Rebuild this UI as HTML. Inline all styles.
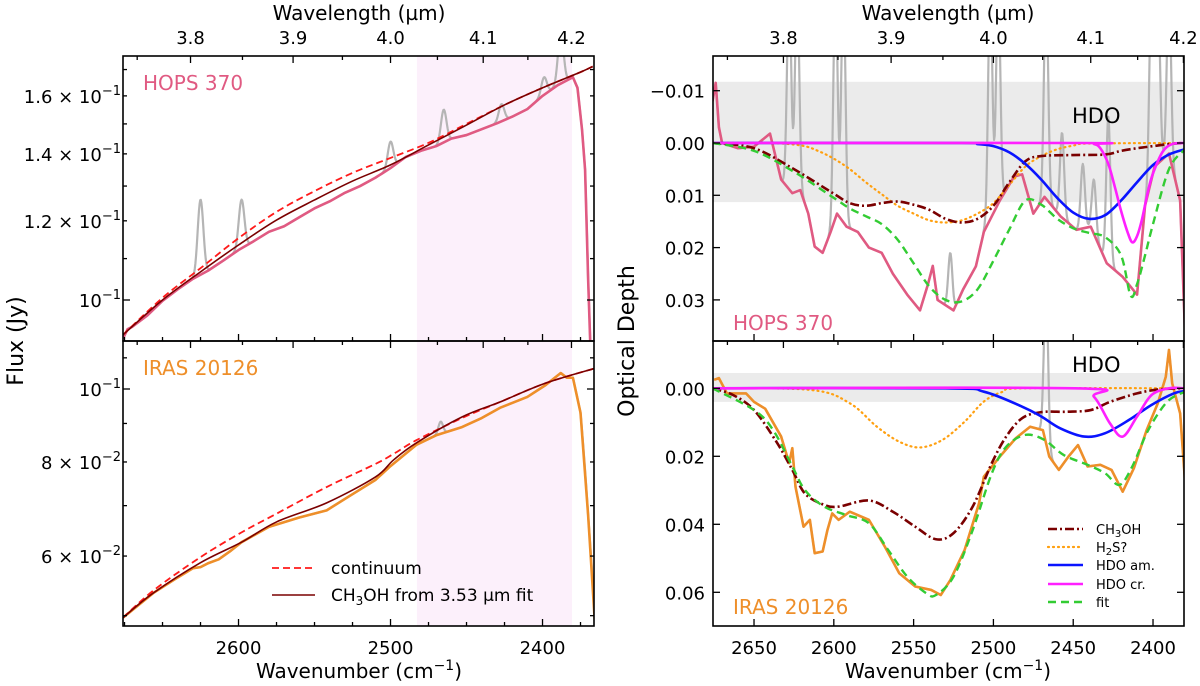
<!DOCTYPE html>
<html><head><meta charset="utf-8"><style>
html,body{margin:0;padding:0;background:#fff;}
svg{display:block;font-family:"DejaVu Sans","Liberation Sans",sans-serif;}
</style></head><body>
<svg id="fig" width="1200" height="686" viewBox="0 0 1200 686" xmlns="http://www.w3.org/2000/svg">
<defs>
<clipPath id="cLT"><rect x="123" y="56" width="471" height="285"/></clipPath>
<clipPath id="cLB"><rect x="123" y="341" width="471" height="285"/></clipPath>
<clipPath id="cRT"><rect x="713" y="56" width="471" height="285"/></clipPath>
<clipPath id="cRB"><rect x="713" y="341" width="471" height="285"/></clipPath>
</defs>
<g id="root"></g>
</svg>
<script>
// ---------- Left top (HOPS 370 flux) ----------
const ltWn=[2676,2650,2625,2600,2575,2550,2525,2500,2475,2450,2425,2400,2375,2367];
const ltCont=[0.0923,0.1005,0.1076,0.1153,0.1225,0.1285,0.1340,0.1387,0.1436,0.1500,0.1567,0.1630,0.1690,0.1712];
const ltModel=[0.0923,0.1000,0.1067,0.1135,0.1202,0.1259,0.1315,0.1365,0.1429,0.1496,0.1567,0.1630,0.1690,0.1712];
const ltObsWn=[2676,2673,2670,2660,2650,2640,2630,2620,2610,2600,2590,2580,2570,2560,2550,2540,2530,2520,2510,2500,2490,2480,2470,2460,2450,2440,2430,2420,2410,2400,2390,2380,2377,2374,2372,2370,2368];
const ltObs=[0.0915,0.0935,0.094,0.0965,0.0998,0.1025,0.105,0.107,0.1095,0.1122,0.1145,0.117,0.1185,0.1210,0.1235,0.1255,0.128,0.130,0.1325,0.1355,0.139,0.141,0.1425,0.145,0.1462,0.1482,0.1502,0.1525,0.1552,0.1600,0.1640,0.1670,0.1630,0.1480,0.1350,0.1050,0.0850];
const ltLineWn=[2625,2598,2500,2465,2427,2399,2388];
const ltLinePeak=[0.126,0.126,0.144,0.155,0.157,0.167,0.185];
// ---------- Left bottom (IRAS 20126 flux) ----------
const lbWn=[2676,2656,2625,2598,2575,2542,2510,2498,2483,2453,2428,2398,2365];
const lbModel=[0.0497,0.0536,0.0588,0.0626,0.0666,0.0706,0.0764,0.0805,0.0848,0.0918,0.0961,0.1018,0.1066];
const lbCont=[0.0497,0.0540,0.0598,0.0645,0.0683,0.0741,0.0795,0.0820,0.0855,0.0915,0.0961,0.1018,0.1066];
const lbObsWn=[2676,2656,2640,2630,2625,2620,2613,2605,2598,2580,2560,2542,2525,2510,2500,2483,2470,2453,2440,2428,2410,2398,2388,2384,2380,2375,2370,2365];
const lbObs=[0.0497,0.0536,0.0562,0.0578,0.0580,0.0587,0.0594,0.0610,0.0626,0.0656,0.0675,0.0690,0.0725,0.0757,0.0790,0.0843,0.0868,0.0890,0.0915,0.0944,0.0976,0.1012,0.1050,0.1035,0.1035,0.0930,0.0680,0.0470];
const lbLineWn=[2467];
const lbLinePeak=[0.0905];
// ---------- Right top (HOPS 370 optical depth) ----------
const rtMethWn=[2676,2650,2625,2600,2590,2580,2570,2560,2550,2540,2530,2520,2510,2500,2490,2480,2470,2450,2430,2420,2410,2400,2390,2380];
const rtMeth=[0,0.001,0.005,0.0097,0.0115,0.012,0.0115,0.0112,0.0118,0.0128,0.0145,0.0152,0.0145,0.012,0.0075,0.0035,0.0025,0.0023,0.0022,0.0015,0.001,0.0006,0.0002,0];
const rtH2sWn=[2676,2640,2620,2610,2600,2590,2580,2570,2560,2550,2540,2530,2520,2510,2500,2490,2480,2470,2460,2450,2440,2380];
const rtH2s=[0,0,0.0005,0.0015,0.003,0.005,0.0075,0.0098,0.012,0.0135,0.0148,0.0152,0.0148,0.0135,0.0115,0.008,0.0045,0.0025,0.0012,0.0005,0.0001,0];
const rtAmWn=[2676,2520,2510,2500,2490,2480,2470,2460,2450,2440,2430,2420,2410,2400,2390,2380];
const rtAm=[0,0,0.0002,0.0006,0.0018,0.004,0.007,0.0105,0.0133,0.0145,0.0138,0.011,0.0075,0.0042,0.0022,0.0012];
const rtCrWn=[2676,2445,2437,2433,2428,2424,2420,2416,2413,2410,2407,2403,2400,2394,2388,2380];
const rtCr=[0,0,0.0002,0.001,0.004,0.0083,0.013,0.017,0.019,0.0178,0.0147,0.009,0.0058,0.0017,0.0002,0];
const rtFitWn=[2676,2650,2625,2600,2590,2580,2570,2560,2550,2540,2530,2520,2510,2500,2490,2480,2470,2460,2450,2440,2430,2420,2414,2410,2405,2400,2390,2380];
const rtFit=[0,0.0015,0.0055,0.0105,0.0125,0.014,0.0155,0.0185,0.023,0.0275,0.030,0.0303,0.028,0.0225,0.0165,0.011,0.0118,0.0145,0.0163,0.0172,0.018,0.0215,0.0292,0.027,0.0215,0.0155,0.005,0.0012];
const rtObsWn=[2676,2674,2672,2670,2660,2650,2640,2633,2626,2621,2616,2612,2607,2602,2598,2592,2585,2578,2570,2563,2554,2546,2541,2538,2535,2525,2519,2511,2506,2496,2487,2482,2475,2468,2458,2448,2439,2429,2419,2410,2405,2399,2390,2383,2380];
const rtObs=[-0.008,-0.0115,-0.003,0,0.001,0.0007,-0.0018,0.007,0.0096,0.009,0.0135,0.0198,0.021,0.017,0.0135,0.016,0.017,0.020,0.021,0.025,0.029,0.032,0.027,0.0235,0.030,0.032,0.028,0.0236,0.017,0.011,0.0064,0.006,0.0135,0.0103,0.014,0.0166,0.016,0.023,0.0256,0.029,0.012,0.0045,0.002,0.011,0.036];
const rtLineWn=[2628,2623,2599,2594,2527,2502,2497,2467,2457,2444,2437,2428,2401,2397,2390];
const rtLinePeak=[-0.03,-0.03,-0.03,-0.03,0.021,-0.03,-0.03,-0.03,-0.002,0.004,0.007,-0.005,-0.03,-0.03,-0.03];
// ---------- Right bottom (IRAS 20126 optical depth) ----------
const rbMethWn=[2676,2663,2650,2636,2626,2618,2606,2597,2578,2563,2549,2536,2525,2513,2501,2492,2482,2470,2454,2439,2427,2410,2396,2380];
const rbMeth=[0,0.002,0.0064,0.0157,0.024,0.031,0.0343,0.0348,0.033,0.0363,0.0407,0.0444,0.0426,0.0348,0.022,0.0142,0.0088,0.007,0.0069,0.0064,0.004,0.0015,0.0003,0];
const rbH2sWn=[2676,2614,2590,2573,2559,2546,2532,2518,2506,2494,2480,2380];
const rbH2s=[0,0.0005,0.0044,0.0113,0.0157,0.0174,0.0152,0.0098,0.0039,0.001,0,0];
const rbAmWn=[2676,2530,2506,2482,2470,2458,2443,2430,2415,2401,2387,2380];
const rbAm=[0,0,0.001,0.0054,0.0083,0.0118,0.0142,0.0132,0.0093,0.0049,0.0015,0.0008];
const rbCrWn=[2676,2449,2437,2427,2419,2410,2401,2390,2380];
const rbCr=[0,0,0.0025,0.0103,0.0142,0.0083,0.002,0,0];
const rbFitWn=[2676,2650,2638,2626,2618,2606,2592,2578,2566,2554,2542,2536,2525,2513,2501,2492,2480,2468,2456,2441,2430,2421,2413,2403,2391,2380];
const rbFit=[0,0.0064,0.0123,0.023,0.030,0.0348,0.0373,0.0397,0.0475,0.0554,0.0603,0.0608,0.0554,0.0417,0.025,0.0172,0.0137,0.0152,0.0196,0.0225,0.025,0.0284,0.023,0.0123,0.0039,0.001];
const rbObsWn=[2675,2672,2667,2655,2650,2643,2633,2628,2626,2624,2619,2615,2612,2607,2604,2601,2597,2590,2578,2568,2559,2549,2539,2533,2527,2518,2509,2506,2496,2486,2477,2469,2465,2459,2453,2447,2441,2433,2426,2419,2412,2404,2397,2392,2390,2388,2383,2380,2379];
const rbObs=[-0.0025,-0.003,0.0015,0.0015,0.004,0.006,0.0142,0.022,0.0176,0.029,0.0407,0.0387,0.0485,0.048,0.0417,0.0368,0.0387,0.0363,0.0387,0.0466,0.0544,0.0583,0.0593,0.0608,0.0564,0.0475,0.0338,0.026,0.0201,0.0147,0.0113,0.0123,0.0201,0.024,0.0201,0.0167,0.023,0.0225,0.024,0.0304,0.0235,0.0123,0.0044,-0.0034,-0.0113,-0.0015,0.0074,0.027,0.051];
const rbLineWn=[2467];
const rbLinePeak=[-0.03];
// ---------- ticks ----------
const leftWnTicks=[2600,2500,2400];
const rightWnTicks=[2650,2600,2550,2500,2450,2400];
const lamTicks=[3.8,3.9,4.0,4.1,4.2];
const ltYTicks=[0.16,0.14,0.12,0.1];
const ltYLabels=["1.6","1.4","1.2",""];
const lbYTicks=[0.1,0.08,0.06];
const lbYLabels=["","8","6"];
const rtYTicks=[-0.01,0,0.01,0.02,0.03];
const rtYLabels=["\u22120.01","0.00","0.01","0.02","0.03"];
const rbYTicks=[0,0.02,0.04,0.06];
const rbYLabels=["0.00","0.02","0.04","0.06"];

// ---------- axes ----------
const L0=123,L1=594,R0=713,R1=1184,T0=56,M=341,B0=626;
const lx=w=>L0+(2676-w)*1.52;
const rx=w=>R0+(2675.7-w)*1.596;
const ly1=v=>300-1000*Math.log10(v/0.1);
const ly2=v=>389-753*Math.log10(v/0.1);
const ry1=t=>143+5230*t;
const ry2=t=>388.3+3400*t;

const NS="http://www.w3.org/2000/svg";
const root=document.getElementById('root');
function el(tag,attrs,parent){const e=document.createElementNS(NS,tag);for(const k in attrs)e.setAttribute(k,attrs[k]);(parent||root).appendChild(e);return e;}
function interp(ws,vs,w){for(let i=0;i<ws.length-1;i++){if(w<=ws[i]&&w>=ws[i+1]){const f=(ws[i]-w)/(ws[i]-ws[i+1]);return vs[i]+f*(vs[i+1]-vs[i]);}}return w>ws[0]?vs[0]:vs[vs.length-1];}
function linePath(ws,vs,fx,fy){return ws.map((w,i)=>(i?'L':'M')+fx(w).toFixed(2)+','+fy(vs[i]).toFixed(2)).join('');}
function smoothPath(ws,vs,fx,fy){const p=ws.map((w,i)=>[fx(w),fy(vs[i])]);let d='M'+p[0][0].toFixed(2)+','+p[0][1].toFixed(2);for(let i=0;i<p.length-1;i++){const a=p[Math.max(0,i-1)],b=p[i],c=p[i+1],e=p[Math.min(p.length-1,i+2)];const c1=[b[0]+(c[0]-a[0])/6,b[1]+(c[1]-a[1])/6],c2=[c[0]-(e[0]-b[0])/6,c[1]-(e[1]-b[1])/6];d+='C'+c1[0].toFixed(2)+','+c1[1].toFixed(2)+' '+c2[0].toFixed(2)+','+c2[1].toFixed(2)+' '+c[0].toFixed(2)+','+c[1].toFixed(2);}return d;}
function grayify(ws,vs,lw,lp,sig){const o=[],ov=[];for(let w=ws[0];w>=ws[ws.length-1];w-=0.4){let v=interp(ws,vs,w);for(let k=0;k<lw.length;k++){const amp=lp[k]-interp(ws,vs,lw[k]);v+=amp*Math.exp(-Math.pow(w-lw[k],2)/(2*sig*sig));}o.push(w);ov.push(v);}return [o,ov];}
function txt(x,y,s,attrs,parent){const t=el('text',Object.assign({x:x,y:y},attrs||{}),parent);t.textContent=s;return t;}

// backgrounds
const bgLT=el('rect',{x:lx(2482.6),y:T0,width:lx(2380.6)-lx(2482.6),height:M-T0,fill:'#fcf0fb'});


const bgLB=el('rect',{x:lx(2482.6),y:M,width:lx(2380.6)-lx(2482.6),height:B0-M,fill:'#fcf0fb'});


const bgRT=el('rect',{x:R0,y:ry1(-0.0117),width:R1-R0,height:ry1(0.0113)-ry1(-0.0117),fill:'#ebebeb'});


const bgRB=el('rect',{x:R0,y:ry2(-0.0045),width:R1-R0,height:ry2(0.004)-ry2(-0.0045),fill:'#ebebeb'});



function series(d,clip,stroke,w,dash,name,cap){const p=el('path',{d:d,fill:'none',stroke:stroke,'stroke-width':w,'clip-path':'url(#'+clip+')','stroke-linejoin':'round','stroke-linecap':cap||'butt'});if(dash)p.setAttribute('stroke-dasharray',dash);return p;}

const PINK='#e05a82',ORANGE='#ee8f2a',MAROON='#7a0000',GRAY='#b5b5b5';
// left top
let g=grayify(ltObsWn,ltObs,ltLineWn,ltLinePeak,1.8);
series(linePath(g[0],g[1],lx,ly1),'cLT',GRAY,2.2,null,'hops370-raw-flux');
series(linePath(ltObsWn,ltObs,lx,ly1),'cLT',PINK,2.6,null,'hops370-flux');
series(smoothPath(ltWn,ltCont,lx,ly1),'cLT','#ff1a1a',1.8,'7,4','hops370-continuum');
series(smoothPath(ltWn,ltModel,lx,ly1),'cLT',MAROON,1.6,null,'hops370-ch3oh-model');
// left bottom
g=grayify(lbObsWn,lbObs,lbLineWn,lbLinePeak,1.5);
series(linePath(g[0],g[1],lx,ly2),'cLB',GRAY,2.2,null,'iras20126-raw-flux');
series(linePath(lbObsWn,lbObs,lx,ly2),'cLB',ORANGE,2.6,null,'iras20126-flux');
series(smoothPath(lbWn,lbCont,lx,ly2),'cLB','#ff1a1a',1.8,'7,4','iras20126-continuum');
series(smoothPath(lbWn,lbModel,lx,ly2),'cLB',MAROON,1.6,null,'iras20126-ch3oh-model');
// right top
g=grayify(rtObsWn,rtObs,rtLineWn,rtLinePeak,1.3);
series(linePath(g[0],g[1],rx,ry1),'cRT',GRAY,2.2,null,'hops370-raw-tau');
series(linePath(rtObsWn,rtObs,rx,ry1),'cRT',PINK,2.6,null,'hops370-tau');
series(smoothPath(rtH2sWn,rtH2s,rx,ry1),'cRT','#ffa010',2.2,'1,4','hops370-h2s','round');
series(smoothPath(rtMethWn,rtMeth,rx,ry1),'cRT',MAROON,2.6,'9,3,2,3','hops370-ch3oh');
series(smoothPath(rtAmWn,rtAm,rx,ry1),'cRT','#0a14ff',2.6,null,'hops370-hdo-amorphous');
series(smoothPath(rtCrWn,rtCr,rx,ry1),'cRT','#ff20ff',2.6,null,'hops370-hdo-crystalline');
series(smoothPath(rtFitWn,rtFit,rx,ry1),'cRT','#33cc33',2.4,'8,5','hops370-fit');
// right bottom
g=grayify(rbObsWn,rbObs,rbLineWn,rbLinePeak,1.3);
series(linePath(g[0],g[1],rx,ry2),'cRB',GRAY,2.2,null,'iras20126-raw-tau');
series(linePath(rbObsWn,rbObs,rx,ry2),'cRB',ORANGE,2.6,null,'iras20126-tau');
series(smoothPath(rbH2sWn,rbH2s,rx,ry2),'cRB','#ffa010',2.2,'1,4','iras20126-h2s','round');
series(smoothPath(rbMethWn,rbMeth,rx,ry2),'cRB',MAROON,2.6,'9,3,2,3','iras20126-ch3oh');
series(smoothPath(rbAmWn,rbAm,rx,ry2),'cRB','#0a14ff',2.6,null,'iras20126-hdo-amorphous');
series(smoothPath(rbCrWn,rbCr,rx,ry2),'cRB','#ff20ff',2.6,null,'iras20126-hdo-crystalline');
series(smoothPath(rbFitWn,rbFit,rx,ry2),'cRB','#33cc33',2.4,'8,5','iras20126-fit');

// frames & ticks
const ax=el('g',{stroke:'#000','stroke-width':1.3,fill:'none'});


function tick(x1,y1,x2,y2){el('line',{x1:x1,y1:y1,x2:x2,y2:y2},ax);}
[[L0,T0,L1,M],[L0,M,L1,B0],[R0,T0,R1,M],[R0,M,R1,B0]].forEach(r=>{const f=el('rect',{x:r[0],y:r[1],width:r[2]-r[0],height:r[3]-r[1]},ax);f.setAttribute('stroke-width',1.6);});
// wavenumber ticks (bottom edges of each panel)
for(let w=2675;w>=2367;w-=25){const major=w%100===0;const x=lx(w);if(x<L0||x>L1)continue;tick(x,M,x,M-(major?7:4));tick(x,B0,x,B0-(major?7:4));}
for(let w=2650;w>=2380;w-=50){const x=rx(w);tick(x,M,x,M-7);tick(x,B0,x,B0-7);}
// wavelength ticks (top edges)
for(let l=3.75;l<=4.21;l+=0.05){const wn=10000/l;const major=Math.abs(l*10-Math.round(l*10))<0.01;[lx(wn),rx(wn)].forEach((x,i)=>{const lo=i?R0:L0,hi=i?R1:L1;if(x<lo-0.5||x>hi+0.5)return;tick(x,T0,x,T0+(major?7:4));tick(x,M,x,M+(major?7:4));});}
// log minor ticks left
[0.1,0.11,0.12,0.13,0.14,0.15,0.16,0.17].forEach(v=>{const y=ly1(v);if(y<T0||y>M)return;const major=(v===0.1);tick(L0,y,L0+(major?7:4),y);tick(L1,y,L1-(major?7:4),y);});
[0.05,0.06,0.07,0.08,0.09,0.1,0.11].forEach(v=>{const y=ly2(v);if(y<M||y>B0)return;const major=(v===0.1);tick(L0,y,L0+(major?7:4),y);tick(L1,y,L1-(major?7:4),y);});
rtYTicks.forEach(t=>{const y=ry1(t);tick(R0,y,R0+7,y);tick(R1,y,R1-7,y);});
rbYTicks.forEach(t=>{const y=ry2(t);tick(R0,y,R0+7,y);tick(R1,y,R1-7,y);});

const F={'font-size':18,fill:'#000'};
const tl=el('g',{});


leftWnTicks.forEach(w=>txt(lx(w),654,String(w),Object.assign({'text-anchor':'middle'},F),tl));
rightWnTicks.forEach(w=>txt(rx(w),654,String(w),Object.assign({'text-anchor':'middle'},F),tl));
lamTicks.forEach(l=>{const t1=txt(lx(10000/l),44,l.toFixed(1),Object.assign({'text-anchor':'middle'},F),tl);const t2=txt(rx(10000/l),44,l.toFixed(1),Object.assign({'text-anchor':'middle'},F),tl);});
function sciLabel(x,y,mant,exp){const t=el('text',Object.assign({x:x,y:y,'text-anchor':'end'},F),tl);t.textContent=(mant?mant+' \u00d7 ':'')+'10';const s=el('tspan',{dy:-8,'font-size':13},t);s.textContent='\u2212'+exp;return t;}
ltYTicks.forEach((v,i)=>sciLabel(121,ly1(v)+7,ltYLabels[i],'1'));
lbYTicks.forEach((v,i)=>sciLabel(121,ly2(v)+7,lbYLabels[i],i?'2':'1'));
rtYTicks.forEach((t,i)=>txt(705,ry1(t)+7,rtYLabels[i],Object.assign({'text-anchor':'end'},F),tl));
rbYTicks.forEach((t,i)=>txt(705,ry2(t)+7,rbYLabels[i],Object.assign({'text-anchor':'end'},F),tl));
</script>
<svg style="position:absolute;left:0;top:0" width="1200" height="686" viewBox="0 0 1200 686" xmlns="http://www.w3.org/2000/svg">
<g font-family="DejaVu Sans, Liberation Sans, sans-serif">
<text x="359" y="20" font-size="20" text-anchor="middle">Wavelength (µm)</text>
<text x="948" y="20" font-size="20" text-anchor="middle">Wavelength (µm)</text>
<text x="359" y="678" font-size="20" text-anchor="middle">Wavenumber (cm<tspan dy="-8" font-size="14">−1</tspan><tspan dy="8">)</tspan></text>
<text x="948" y="678" font-size="20" text-anchor="middle">Wavenumber (cm<tspan dy="-8" font-size="14">−1</tspan><tspan dy="8">)</tspan></text>
<text transform="translate(23,341) rotate(-90)" font-size="22" text-anchor="middle">Flux (Jy)</text>
<text transform="translate(634,341) rotate(-90)" font-size="22" text-anchor="middle">Optical Depth</text>
<text x="143" y="90" font-size="20" fill="#e05a82">HOPS 370</text>
<text x="143" y="375" font-size="20" fill="#ee8f2a">IRAS 20126</text>
<text x="733" y="330" font-size="20" fill="#e05a82">HOPS 370</text>
<text x="733" y="614" font-size="20" fill="#ee8f2a">IRAS 20126</text>
<text x="1072" y="123" font-size="21">HDO</text>
<text x="1072" y="372" font-size="21">HDO</text>
<g>
<line x1="272" y1="568" x2="315" y2="568" stroke="#ff1a1a" stroke-width="1.8" stroke-dasharray="7,4"/>
<text x="331" y="574" font-size="17">continuum</text>
<line x1="272" y1="595" x2="315" y2="595" stroke="#7a0000" stroke-width="1.6"/>
<text x="331" y="601" font-size="17">CH<tspan dy="4" font-size="12">3</tspan><tspan dy="-4">OH from 3.53 µm fit</tspan></text>
</g>
<g font-size="13">
<line x1="1048" y1="529" x2="1083" y2="529" stroke="#7a0000" stroke-width="2.6" stroke-dasharray="9,3,2,3"/>
<text x="1096" y="534">CH<tspan dy="3" font-size="10">3</tspan><tspan dy="-3">OH</tspan></text>
<line x1="1048" y1="547" x2="1083" y2="547" stroke="#ffa010" stroke-width="2.2" stroke-dasharray="1,4" stroke-linecap="round"/>
<text x="1096" y="552">H<tspan dy="3" font-size="10">2</tspan><tspan dy="-3">S?</tspan></text>
<line x1="1048" y1="565" x2="1083" y2="565" stroke="#0a14ff" stroke-width="2.6"/>
<text x="1096" y="570">HDO am.</text>
<line x1="1048" y1="584" x2="1083" y2="584" stroke="#ff20ff" stroke-width="2.6"/>
<text x="1096" y="589">HDO cr.</text>
<line x1="1048" y1="602" x2="1083" y2="602" stroke="#33cc33" stroke-width="2.4" stroke-dasharray="8,5"/>
<text x="1096" y="607">fit</text>
</g>
</g>
</svg>
</body></html>
